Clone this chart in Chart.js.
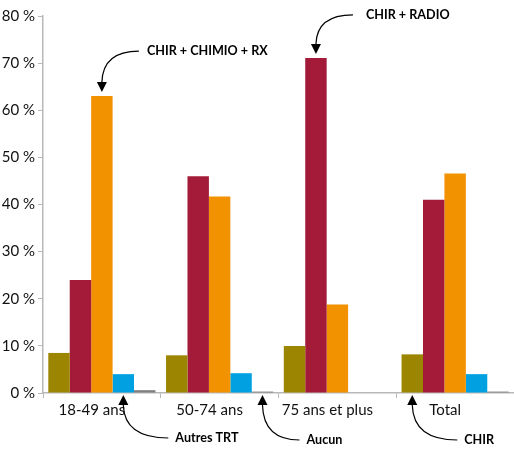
<!DOCTYPE html>
<html lang="fr">
<head>
<meta charset="UTF-8">
<title>Traitements par tranche d'âge</title>
<script src="https://cdn.jsdelivr.net/npm/chart.js"></script>
<style>
  html, body { margin: 0; padding: 0; background: #fff; }
  #wrap { width: 514px; height: 449px; }
</style>
</head>
<body>
<div id="wrap"><canvas id="chart" width="514" height="449"></canvas></div>
<script>
// data
const categories = ['18-49 ans', '50-74 ans', '75 ans et plus', 'Total'];
const chir        = [8.5, 8.0, 10.0, 8.2];
const chirRadio   = [24.0, 46.0, 71.1, 41.0];
const chirChimio  = [63.0, 41.7, 18.8, 46.6];
const autresTrt   = [4.0, 4.2, 0, 4.0];
const aucun       = [0.6, 0.3, 0, 0.3];
const yTicks = [0, 10, 20, 30, 40, 50, 60, 70, 80];

const seriesNames = ['CHIR', 'CHIR + RADIO', 'CHIR + CHIMIO + RX', 'Autres TRT', 'Aucun'];
const seriesColors = ['#9c8500', '#a31b39', '#f29200', '#00a0e1', '#7f7f7f'];

const FONT = 'Lato, "Open Sans", sans-serif';

// callouts: which bar they point at, where the label sits relative to the arrow tip
const callouts = [
  { ds: 2, idx: 0, side: 'top', dx: 37, dy: -41, gap: 8, text: 'CHIR + CHIMIO + RX' },
  { ds: 1, idx: 2, side: 'top', dx: 37, dy: -39, gap: 13, text: 'CHIR + RADIO' },
  { ds: 3, idx: 0, side: 'bottom', dx: 45, dy: 43, gap: 7, text: 'Autres TRT' },
  { ds: 4, idx: 1, side: 'bottom', dx: 37, dy: 45, gap: 7, text: 'Aucun' },
  { ds: 0, idx: 3, side: 'bottom', dx: 45, dy: 45, gap: 7, text: 'CHIR' }
];

const calloutPlugin = {
  id: 'callouts',
  afterDraw(chart) {
    const ctx = chart.ctx;
    const base = chart.scales.y.getPixelForValue(0);
    ctx.save();
    ctx.strokeStyle = '#000';
    ctx.fillStyle = '#000';
    ctx.lineWidth = 1.2;
    ctx.font = 'bold 12.6px ' + FONT;
    ctx.textBaseline = 'middle';
    callouts.forEach(c => {
      const bar = chart.getDatasetMeta(c.ds).data[c.idx];
      const tx = bar.x;
      let ty, dir;
      if (c.side === 'top') { ty = bar.y - 4; dir = 1; }
      else { ty = base + 2; dir = -1; }
      const ex = tx + c.dx, ey = ty + c.dy;
      // head
      const headLen = 10;
      const sy = ty - dir * headLen;
      ctx.beginPath();
      ctx.moveTo(tx, ty);
      ctx.lineTo(tx - 5, sy);
      ctx.lineTo(tx + 5, sy);
      ctx.closePath();
      ctx.fill();
      // curved shaft
      ctx.beginPath();
      ctx.moveTo(tx, sy);
      ctx.quadraticCurveTo(tx + 1, ey, ex, ey);
      ctx.stroke();
      ctx.textAlign = 'left';
      ctx.fillText(c.text, ex + c.gap, ey);
    });
    ctx.restore();
  }
};

const datasets = [chir, chirRadio, chirChimio, autresTrt, aucun].map((vals, i) => ({
  label: seriesNames[i],
  data: vals,
  backgroundColor: seriesColors[i],
  borderWidth: 0
}));

new Chart(document.getElementById('chart'), {
  type: 'bar',
  data: { labels: categories, datasets: datasets },
  options: {
    responsive: false,
    animation: false,
    layout: { padding: { top: 16, left: 0, right: -4, bottom: 0 } },
    plugins: { legend: { display: false }, tooltip: { enabled: false } },
    datasets: { bar: { categoryPercentage: 0.91, barPercentage: 1.0 } },
    scales: {
      x: {
        grid: { drawOnChartArea: false, color: '#b8b8b8', tickLength: 5, offset: true },
        border: { color: '#b8b8b8', width: 1.5 },
        ticks: { color: '#111', font: { family: FONT, size: 15 }, labelOffset: -10, padding: 3 },
        afterFit(scale) { scale.height = 56; }
      },
      y: {
        min: 0, max: 80,
        afterBuildTicks(scale) { scale.ticks = yTicks.map(v => ({ value: v })); },
        grid: { drawOnChartArea: false, color: '#b8b8b8', tickLength: 5 },
        border: { color: '#b8b8b8', width: 1.5 },
        ticks: { color: '#111', font: { family: FONT, size: 15 }, padding: 3,
                 callback: v => v + ' %' },
        afterFit(scale) { scale.width = 43; }
      }
    }
  },
  plugins: [calloutPlugin]
});
</script>
</body>
</html>
